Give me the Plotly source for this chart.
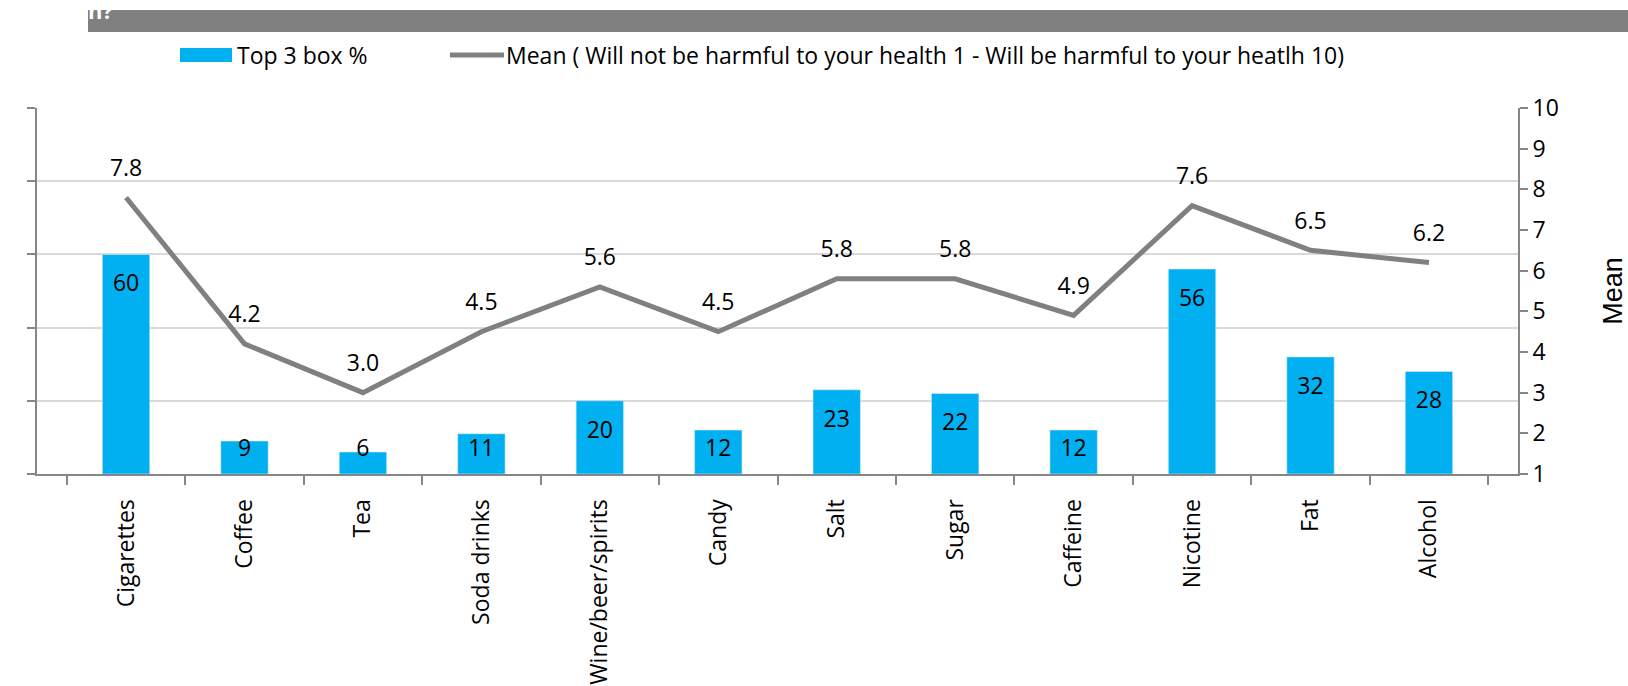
import plotly.graph_objects as go

categories = ["Cigarettes", "Coffee", "Tea", "Soda drinks", "Wine/beer/spirits", "Candy",
              "Salt", "Sugar", "Caffeine", "Nicotine", "Fat", "Alcohol"]
top3_box = [60, 9, 6, 11, 20, 12, 23, 22, 12, 56, 32, 28]
mean_vals = [7.8, 4.2, 3.0, 4.5, 5.6, 4.5, 5.8, 5.8, 4.9, 7.6, 6.5, 6.2]
left_ticks = [0, 20, 40, 60, 80, 100]
right_ticks = [1, 2, 3, 4, 5, 6, 7, 8, 9, 10]
legend_bar = "Top 3 box %"
legend_line = "Mean ( Will not be harmful to your health 1 - Will be harmful to your heatlh 10)"

W, H = 1628, 686
L, R, T, B = 37, 110, 108, 212
PW, PH = W - L - R, H - T - B

def px(x):
    return (x - L) / PW

def py(y):
    return (H - B - y) / PH

FONT = "Open Sans"
FS = 23
BLUE = "#00B0F0"
GREY = "#808080"
AX = "#868686"

# bar labels sit inside the bar top (about 31 px down), but never lower than ~24 px above the axis
px_per_unit = PH / 100.0
bar_label_y = [max(v - 31 / px_per_unit, 24 / px_per_unit) for v in top3_box]

fig = go.Figure()
fig.add_trace(go.Bar(
    x=categories, y=top3_box, name=legend_bar, marker_color=BLUE, width=0.40,
    yaxis="y", showlegend=False, hoverinfo="skip",
))
fig.add_trace(go.Scatter(
    x=categories, y=bar_label_y, mode="text", text=[str(v) for v in top3_box],
    textposition="middle center", textfont=dict(color="black", size=FS, family=FONT),
    yaxis="y", showlegend=False, cliponaxis=False, hoverinfo="skip",
))
fig.add_trace(go.Scatter(
    x=categories, y=mean_vals, name=legend_line, mode="lines+markers+text",
    line=dict(color=GREY, width=5),
    marker=dict(size=24, color="rgba(0,0,0,0)"),
    text=[f"{v:.1f}" for v in mean_vals], textposition="top center",
    textfont=dict(color="black", size=FS, family=FONT),
    yaxis="y2", showlegend=False, cliponaxis=False,
))

shapes = [
    dict(type="rect", xref="paper", yref="paper", x0=px(88), x1=px(W + 5), y0=py(32), y1=py(10),
         fillcolor="#808080", line=dict(width=0), layer="above"),
    dict(type="rect", xref="paper", yref="paper", x0=px(180), x1=px(232), y0=py(62), y1=py(48),
         fillcolor=BLUE, line=dict(width=0)),
    dict(type="line", xref="paper", yref="paper", x0=px(450), x1=px(504), y0=py(55), y1=py(55),
         line=dict(color=GREY, width=5)),
]
annotations = [
    dict(text=legend_bar, xref="paper", yref="paper", x=px(235), y=py(55), xanchor="left",
         yanchor="middle", showarrow=False, font=dict(size=FS, family=FONT, color="black")),
    dict(text=legend_line, xref="paper", yref="paper", x=px(504), y=py(55), xanchor="left",
         yanchor="middle", showarrow=False, font=dict(size=FS, family=FONT, color="black")),
    dict(text="<b>n?</b>", xref="paper", yref="paper", x=px(86), y=py(27), xanchor="left",
         yanchor="bottom", showarrow=False, font=dict(size=22, family=FONT, color="white")),
]

fig.update_layout(
    width=W, height=H, margin=dict(l=L, r=R, t=T, b=B, autoexpand=False),
    plot_bgcolor="white", paper_bgcolor="white",
    font=dict(family=FONT, size=FS, color="black"),
    shapes=shapes, annotations=annotations, showlegend=False,
    xaxis=dict(type="category", tickson="boundaries", ticks="outside", ticklen=9, tickcolor=AX,
               tickwidth=2, showline=True, linecolor=AX, linewidth=2, tickangle=-90,
               showgrid=False, tickfont=dict(size=FS, family=FONT, color="black"),
               ticklabelstandoff=14, automargin=False),
    yaxis=dict(range=[0, 100], tickvals=left_ticks, showticklabels=False, ticks="outside",
               ticklen=8, tickcolor=AX, tickwidth=2, showline=True, linecolor=AX, linewidth=2,
               gridcolor="#d9d9d9", gridwidth=2, zeroline=False, automargin=False),
    yaxis2=dict(range=[1, 10], tickvals=right_ticks, overlaying="y", side="right",
                ticks="outside", ticklen=8, tickcolor=AX, tickwidth=2, showline=True,
                linecolor=AX, linewidth=2, showgrid=False, zeroline=False, automargin=False,
                tickfont=dict(size=FS, family=FONT, color="black"),
                title=dict(text="Mean", font=dict(size=27, family="Liberation Sans", color="black"),
                           standoff=46)),
)

fig.write_html("out.html", config={"displayModeBar": False},
               post_script="document.body.style.margin='0px';document.body.style.overflow='hidden';")
